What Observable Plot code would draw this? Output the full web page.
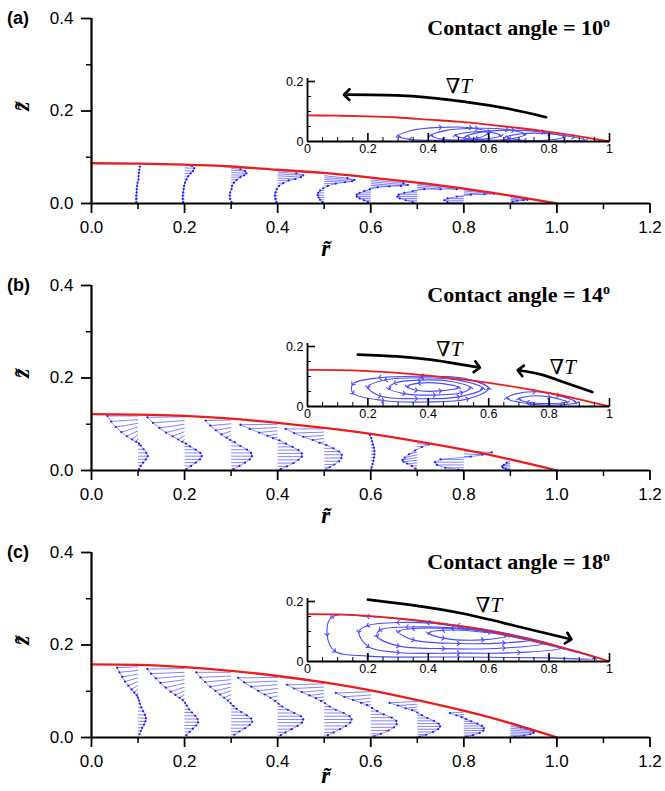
<!DOCTYPE html>
<html><head><meta charset="utf-8">
<script src="https://cdn.jsdelivr.net/npm/d3@7"></script>
<script src="https://cdn.jsdelivr.net/npm/@observablehq/plot@0.6"></script>
<style>
body{margin:0;background:#fff;}
#fig{position:relative;width:665px;height:791px;overflow:hidden;background:#fff;font-family:"Liberation Sans",Arial,sans-serif;}
.abs{position:absolute;}
.letter{position:absolute;left:7px;font:bold 18px/22px "Liberation Sans",Arial,sans-serif;}
.title{position:absolute;right:55px;font:bold 22px/26px "Liberation Serif","Times New Roman",serif;white-space:nowrap;}
.title sup{font-size:14px;line-height:0;}
</style></head><body><div id="fig"></div>
<script>
// ---------- data ----------
const panelLetters = ["(a)", "(b)", "(c)"];
const contactAngles = [10, 14, 18];

const xMajor = [0, 0.2, 0.4, 0.6, 0.8, 1.0, 1.2];
const xMinor = [0.1, 0.3, 0.5, 0.7, 0.9, 1.1];
const yMajor = [0, 0.2, 0.4];
const yMinor = [0.1, 0.3];

const inXLabels = [0, 0.2, 0.4, 0.6, 0.8, 1];
const inXMajor = [0.2, 0.4, 0.6, 0.8, 1];
const inXMinor = [0.05, 0.1, 0.15, 0.25, 0.3, 0.35, 0.45, 0.5, 0.55, 0.65, 0.7, 0.75, 0.85, 0.9, 0.95];
const inYLabels = [0, 0.2];
const inYMajor = [0.2];
const inYMinor = [0.05, 0.1, 0.15];

// droplet free surface
const surfR = [0, 0.1, 0.2, 0.3, 0.4, 0.5, 0.6, 0.7, 0.8, 0.9, 1.0];
const surfA = [0.087, 0.086, 0.084, 0.080, 0.073, 0.066, 0.056, 0.045, 0.032, 0.017, 0];
const surfB = [0.122, 0.121, 0.118, 0.112, 0.103, 0.092, 0.079, 0.063, 0.045, 0.024, 0];
const surfC = [0.158, 0.157, 0.152, 0.144, 0.133, 0.119, 0.102, 0.081, 0.058, 0.031, 0];

// velocity profile stations
const stationsR = [0.1, 0.2, 0.3, 0.4, 0.5, 0.6, 0.7, 0.8, 0.9];

// panel (a): heights of vectors, radial and vertical displacement
const velA_z = [
 [0.003,0.010,0.017,0.024,0.031,0.038,0.045,0.052,0.059,0.066,0.073,0.080],
 [0.003,0.010,0.017,0.024,0.031,0.038,0.045,0.052,0.059,0.065,0.071,0.077,0.082],
 [0.003,0.010,0.017,0.024,0.031,0.038,0.045,0.051,0.057,0.062,0.067,0.072,0.076],
 [0.003,0.010,0.017,0.024,0.031,0.038,0.044,0.050,0.055,0.060,0.064,0.068],
 [0.003,0.008,0.013,0.018,0.023,0.028,0.033,0.038,0.043,0.048,0.052,0.056,0.060],
 [0.003,0.007,0.011,0.015,0.019,0.023,0.027,0.031,0.035,0.039,0.043,0.047,0.051],
 [0.003,0.007,0.011,0.015,0.019,0.023,0.027,0.031,0.035,0.039,0.042],
 [0.003,0.007,0.011,0.015,0.019,0.023,0.027,0.030],
 [0.003,0.006,0.009,0.012,0.015]
];
const velA_u = [
 [-0.004,-0.004,-0.004,-0.003,-0.003,-0.002,-0.001,0.001,0.001,0.002,0.003,0.004],
 [-0.003,-0.004,-0.004,-0.003,-0.002,-0.001,0.001,0.004,0.008,0.013,0.018,0.021,0.016],
 [0.001,-0.002,-0.003,-0.002,0.001,0.002,0.006,0.012,0.020,0.028,0.033,0.030,0.020],
 [-0.003,-0.005,-0.006,-0.005,-0.002,0.003,0.012,0.024,0.038,0.050,0.055,0.040],
 [-0.004,-0.009,-0.012,-0.014,-0.013,-0.009,-0.002,0.008,0.025,0.045,0.060,0.065,0.050],
 [-0.006,-0.015,-0.024,-0.030,-0.030,-0.024,-0.014,-0.002,0.015,0.040,0.065,0.080,0.070],
 [-0.010,-0.025,-0.038,-0.043,-0.040,-0.028,-0.010,0.015,0.050,0.085,0.090],
 [-0.035,-0.042,-0.035,-0.015,0.015,0.045,0.065,0.050],
 [0.005,0.015,0.028,0.037,0.030]
];
const velA_w = [
 [],
 [0,0,0,0,0,0,0,0,0,0,-0.001,-0.001,-0.001],
 [0,0,0,0,0,0,0,0,0,-0.001,-0.002,-0.002,-0.002],
 [0,0,0,0,0,0,0,0,-0.002,-0.003,-0.003,-0.003],
 [0,0,0,0,0,0,0,0,0,-0.002,-0.004,-0.005,-0.005],
 [0,0,0,0,0,0,0,0,0,-0.002,-0.005,-0.007,-0.007],
 [0,0,0,0,0,0,0,0,-0.004,-0.008,-0.009],
 [0,0,0,0,0,-0.003,-0.006,-0.006],
 [0,0,-0.002,-0.004,-0.004]
];

// panel (b)
const velB_z = [
 [0.118,0.110,0.102,0.094,0.086,0.078,0.070,0.062,0.054,0.046,0.038,0.031,0.024,0.017,0.010,0.003],
 [0.116,0.108,0.100,0.092,0.084,0.076,0.068,0.060,0.052,0.045,0.038,0.031,0.024,0.017,0.010,0.003],
 [0.109,0.101,0.093,0.085,0.077,0.069,0.061,0.053,0.045,0.038,0.031,0.024,0.017,0.010,0.003],
 [0.100,0.093,0.086,0.079,0.072,0.065,0.058,0.051,0.044,0.037,0.030,0.023,0.016,0.009,0.003],
 [0.090,0.083,0.076,0.069,0.062,0.055,0.048,0.041,0.034,0.027,0.020,0.013,0.007,0.002],
 [0.077,0.070,0.063,0.056,0.049,0.042,0.035,0.028,0.021,0.014,0.007,0.002],
 [0.058,0.052,0.046,0.040,0.034,0.028,0.022,0.016,0.010,0.004],
 [0.042,0.036,0.030,0.024,0.018,0.012,0.006,0.002],
 [0.020,0.016,0.012,0.008,0.004,0.001]
];
const velB_u = [
 [-0.066,-0.058,-0.048,-0.036,-0.024,-0.013,-0.004,0.002,0.006,0.012,0.018,0.021,0.017,0.011,0.006,0.002],
 [-0.080,-0.068,-0.054,-0.040,-0.026,-0.014,-0.005,0.003,0.012,0.024,0.034,0.037,0.033,0.024,0.014,0.004],
 [-0.055,-0.045,-0.033,-0.021,-0.010,-0.002,0.008,0.020,0.034,0.043,0.045,0.040,0.030,0.018,0.005],
 [-0.080,-0.060,-0.040,-0.022,-0.010,0.004,0.018,0.032,0.045,0.052,0.052,0.045,0.034,0.020,0.007],
 [-0.083,-0.065,-0.045,-0.025,-0.010,0.005,0.020,0.032,0.038,0.037,0.032,0.022,0.012,0.004],
 [-0.002,0.001,0.003,0.005,0.007,0.008,0.008,0.007,0.006,0.004,0.002,0.001],
 [0.025,0.010,-0.005,-0.018,-0.027,-0.032,-0.030,-0.022,-0.012,-0.004],
 [0.060,0.040,0.015,-0.050,-0.062,-0.058,-0.040,-0.012],
 [-0.008,-0.014,-0.018,-0.016,-0.010,-0.003]
];
const velB_w = [
 [0,-0.004,-0.008,-0.011,-0.012,-0.011,-0.008,-0.004],
 [-0.001,-0.005,-0.008,-0.010,-0.010,-0.009,-0.006,-0.002],
 [-0.001,-0.004,-0.006,-0.007,-0.006,-0.003],
 [-0.001,-0.003,-0.004,-0.004,-0.002],
 [0,-0.002,-0.003,-0.003,-0.002],
 [],
 [-0.002,-0.001,-0.003,-0.005,-0.006,-0.005,-0.003,-0.001],
 [-0.003,-0.002],
 [-0.003,-0.004,-0.003,-0.002,-0.001]
];

// panel (c)
const velC_z = [
 [0.153,0.145,0.137,0.129,0.121,0.113,0.105,0.097,0.089,0.081,0.073,0.065,0.057,0.049,0.042,0.035,0.028,0.021,0.014,0.007],
 [0.149,0.141,0.133,0.125,0.117,0.109,0.101,0.093,0.085,0.077,0.069,0.061,0.054,0.047,0.040,0.033,0.026,0.019,0.012,0.005],
 [0.141,0.133,0.125,0.117,0.109,0.101,0.093,0.085,0.077,0.069,0.062,0.055,0.048,0.041,0.034,0.027,0.020,0.013,0.006],
 [0.130,0.122,0.114,0.106,0.098,0.090,0.082,0.074,0.067,0.060,0.053,0.046,0.039,0.032,0.025,0.018,0.011,0.005],
 [0.116,0.109,0.102,0.095,0.088,0.081,0.074,0.067,0.060,0.053,0.046,0.039,0.032,0.025,0.018,0.011,0.005],
 [0.099,0.092,0.085,0.078,0.071,0.064,0.057,0.050,0.043,0.036,0.029,0.022,0.015,0.008,0.003],
 [0.078,0.072,0.066,0.060,0.054,0.048,0.042,0.036,0.030,0.024,0.018,0.012,0.006,0.002],
 [0.055,0.050,0.045,0.040,0.035,0.030,0.025,0.020,0.015,0.010,0.005,0.002],
 [0.028,0.024,0.020,0.016,0.012,0.008,0.004,0.001]
];
const velC_u = [
 [-0.045,-0.040,-0.034,-0.028,-0.021,-0.014,-0.008,-0.003,0.000,0.002,0.004,0.007,0.011,0.015,0.017,0.016,0.013,0.009,0.006,0.003],
 [-0.080,-0.072,-0.062,-0.052,-0.041,-0.030,-0.020,-0.011,-0.004,0.001,0.005,0.010,0.016,0.023,0.028,0.029,0.025,0.018,0.011,0.004],
 [-0.075,-0.066,-0.056,-0.045,-0.034,-0.024,-0.015,-0.007,-0.001,0.005,0.012,0.022,0.034,0.043,0.045,0.040,0.030,0.018,0.007],
 [-0.085,-0.072,-0.057,-0.042,-0.028,-0.016,-0.006,0.002,0.010,0.022,0.036,0.050,0.055,0.052,0.043,0.030,0.017,0.007],
 [-0.080,-0.065,-0.048,-0.032,-0.018,-0.007,0.002,0.012,0.025,0.042,0.055,0.059,0.056,0.047,0.034,0.020,0.008],
 [-0.075,-0.057,-0.038,-0.021,-0.008,0.003,0.014,0.028,0.045,0.055,0.056,0.050,0.038,0.022,0.008],
 [-0.060,-0.042,-0.025,-0.011,0.000,0.010,0.022,0.036,0.046,0.049,0.045,0.034,0.019,0.006],
 [-0.030,-0.016,-0.005,0.005,0.016,0.029,0.039,0.043,0.042,0.034,0.020,0.007],
 [0.022,0.035,0.045,0.050,0.050,0.043,0.030,0.010]
];
const velC_w = [
 [-0.002,-0.004,-0.006,-0.008,-0.009,-0.009,-0.008,-0.006,-0.003,-0.001],
 [-0.001,-0.003,-0.005,-0.007,-0.009,-0.010,-0.009,-0.007,-0.004,-0.002],
 [0,-0.003,-0.005,-0.007,-0.008,-0.008,-0.007,-0.005,-0.003,-0.001],
 [-0.001,-0.003,-0.004,-0.005,-0.005,-0.004,-0.003,-0.001],
 [-0.002,-0.003,-0.004,-0.004,-0.003,-0.002],
 [-0.003,-0.004,-0.004,-0.003,-0.001],
 [-0.003,-0.003,-0.003,-0.001],
 [-0.002,-0.002,-0.001],
 [-0.006,-0.005,-0.004,-0.003,-0.002,-0.001]
];

// inset streamlines (closed loops)
const streamA = [
 [[0.30,0.018],[0.34,0.036],[0.44,0.047],[0.54,0.046],[0.60,0.030],[0.56,0.010],[0.45,0.004],[0.34,0.007]],
 [[0.41,0.020],[0.46,0.037],[0.56,0.044],[0.66,0.040],[0.72,0.024],[0.67,0.008],[0.55,0.004],[0.45,0.007]],
 [[0.49,0.020],[0.53,0.030],[0.60,0.032],[0.64,0.020],[0.60,0.010],[0.52,0.011]],
 [[0.53,0.018],[0.58,0.032],[0.68,0.038],[0.78,0.031],[0.85,0.016],[0.80,0.005],[0.66,0.003],[0.56,0.007]],
 [[0.66,0.015],[0.71,0.026],[0.80,0.026],[0.88,0.015],[0.92,0.005],[0.85,0.002],[0.72,0.003]]
];
const streamB = [
 [[0.60,0.060],[0.52,0.094],[0.38,0.101],[0.24,0.096],[0.15,0.075],[0.15,0.045],[0.25,0.020],[0.40,0.015],[0.53,0.025]],
 [[0.58,0.060],[0.50,0.088],[0.38,0.096],[0.26,0.089],[0.20,0.065],[0.24,0.035],[0.36,0.026],[0.50,0.032]],
 [[0.54,0.062],[0.47,0.084],[0.37,0.088],[0.29,0.078],[0.27,0.060],[0.32,0.043],[0.42,0.038],[0.51,0.046]],
 [[0.50,0.063],[0.44,0.077],[0.37,0.078],[0.33,0.067],[0.36,0.054],[0.44,0.052]],
 [[0.66,0.028],[0.69,0.042],[0.75,0.049],[0.83,0.037],[0.89,0.013],[0.84,0.006],[0.74,0.008]],
 [[0.70,0.025],[0.74,0.035],[0.80,0.032],[0.86,0.015],[0.80,0.010],[0.73,0.014]]
];
const streamC = [
 [[0.95,0.010],[0.80,0.054],[0.60,0.098],[0.40,0.130],[0.20,0.150],[0.08,0.148],[0.065,0.090],[0.09,0.035],[0.20,0.018],[0.50,0.015],[0.80,0.012]],
 [[0.84,0.045],[0.70,0.085],[0.50,0.120],[0.30,0.130],[0.20,0.120],[0.17,0.100],[0.20,0.050],[0.30,0.030],[0.50,0.028],[0.70,0.030]],
 [[0.78,0.060],[0.65,0.092],[0.48,0.112],[0.33,0.115],[0.24,0.105],[0.23,0.085],[0.30,0.052],[0.45,0.043],[0.65,0.045]],
 [[0.74,0.072],[0.62,0.098],[0.48,0.110],[0.35,0.110],[0.30,0.100],[0.35,0.072],[0.50,0.060],[0.65,0.062]],
 [[0.66,0.085],[0.56,0.100],[0.45,0.104],[0.40,0.095],[0.45,0.078],[0.58,0.072]]
];

// temperature-gradient arrows and their labels
const gradA = [[[0.79,0.081],[0.64,0.114],[0.47,0.139],[0.31,0.153],[0.13,0.156]]];
const gradB = [
 [[0.167,0.173],[0.297,0.167],[0.407,0.156],[0.496,0.142],[0.562,0.131]],
 [[0.943,0.048],[0.849,0.081],[0.772,0.107],[0.705,0.120]]
];
const gradC = [[[0.20,0.206],[0.352,0.187],[0.518,0.159],[0.683,0.120],[0.865,0.076]]];
const labA = [[0.506,0.183]];
const labB = [[0.474,0.190],[0.85,0.131]];
const labC = [[0.606,0.187]];

// ---------- drawing ----------
const RED = "#ec1c1c", BLUE_LINE = "#6464ff", BLUE_HEAD = "#1c1cff", STREAM = "#4a4aff";
const SERIF = "'Liberation Serif','Times New Roman','DejaVu Serif',serif";
const SANS = "'Liberation Sans',Arial,sans-serif";
const fig = document.getElementById("fig");

function mainPanel(surf, vz, vu, vw, height, marginBottom, rDy) {
  const rows = [];
  stationsR.forEach((r, i) => vz[i].forEach((z, j) => {
    rows.push({s: i, x1: r, y1: z, x2: r + vu[i][j], y2: z + ((vw[i] || [])[j] ?? 0)});
  }));
  const surfRows = surfR.map((r, i) => ({r, z: surf[i]}));
  return Plot.plot({
    width: 665, height, marginLeft: 91, marginRight: 15.5, marginTop: 18, marginBottom,
    x: {domain: [0, 1.2]}, y: {domain: [0, 0.4]},
    style: {fontFamily: SANS, fontSize: "17px", background: "transparent", overflow: "visible", color: "black"},
    marks: [
      Plot.link(rows, {x1: "x1", y1: "y1", x2: "x2", y2: "y2", stroke: BLUE_LINE, strokeWidth: 0.8}),
      Plot.line(rows, {x: "x2", y: "y2", z: "s", stroke: BLUE_HEAD, strokeWidth: 0.7, strokeOpacity: 0.7}),
      Plot.dot(rows, {x: "x2", y: "y2", r: 1.1, fill: BLUE_HEAD}),
      Plot.line(surfRows, {x: "r", y: "z", curve: "natural", stroke: RED, strokeWidth: 2.3}),
      Plot.ruleY([0], {strokeWidth: 2.2}),
      Plot.ruleX([0], {strokeWidth: 2.2}),
      Plot.axisX({ticks: xMajor, tickSize: 10, tickPadding: 7, tickFormat: d3.format(".1f"), strokeWidth: 1.8, fontSize: 17, label: null}),
      Plot.axisX({ticks: xMinor, tickSize: 6, tickFormat: () => "", strokeWidth: 1.5, label: null}),
      Plot.axisY({ticks: yMajor, tickSize: 10, tickPadding: 8, tickFormat: d3.format(".1f"), strokeWidth: 1.8, fontSize: 17, label: null}),
      Plot.axisY({ticks: yMinor, tickSize: 5, tickFormat: () => "", strokeWidth: 1.5, label: null}),
      Plot.text(["z\u0303"], {text: d => d, frameAnchor: "left", dx: -70, rotate: -90, fontFamily: SERIF, fontStyle: "italic", fontWeight: "bold", fontSize: 24}),
      Plot.text(["r\u0303"], {text: d => d, frameAnchor: "bottom", dx: -45, dy: rDy, lineAnchor: "middle", fontFamily: SERIF, fontStyle: "italic", fontWeight: "bold", fontSize: 23})
    ]
  });
}

function insetPanel(surf, loops, grads, labs) {
  const loopRows = loops.flatMap((pts, id) => pts.map(([x, y]) => ({id, x, y})));
  const gradRows = grads.flatMap((pts, id) => pts.map(([x, y]) => ({id, x, y})));
  const surfRows = surfR.map((r, i) => ({r, z: surf[i]}));
  const fh = 63, fw = 302;
  return Plot.plot({
    width: 332, height: 91, marginLeft: 22, marginRight: 8, marginTop: 10, marginBottom: 18,
    x: {domain: [0, 1]}, y: {domain: [0, 0.21]},
    style: {fontFamily: SANS, fontSize: "12.5px", background: "transparent", overflow: "visible", color: "black"},
    marks: [
      Plot.line(loopRows, {x: "x", y: "y", z: "id", curve: "catmull-rom-closed", stroke: STREAM, strokeWidth: 1.1, markerMid: "arrow"}),
      Plot.line(surfRows, {x: "r", y: "z", curve: "natural", stroke: RED, strokeWidth: 1.8}),
      Plot.line(gradRows, {x: "x", y: "y", z: "id", curve: "natural", stroke: "black", strokeWidth: 2.7, markerEnd: "arrow"}),
      Plot.text(labs, {x: d => d[0], y: d => d[1], text: () => "\u2207", textAnchor: "end", fontFamily: SERIF, fontSize: 21}),
      Plot.text(labs, {x: d => d[0], y: d => d[1], text: () => "T", textAnchor: "start", fontFamily: SERIF, fontStyle: "italic", fontSize: 21}),
      Plot.ruleY([0], {strokeWidth: 1.8}),
      Plot.ruleX([0], {strokeWidth: 1.8}),
      Plot.tickX(inXMajor, {x: d => d, insetTop: fh - 8, strokeWidth: 1.6}),
      Plot.tickX(inXMinor, {x: d => d, insetTop: fh - 4, strokeWidth: 1}),
      Plot.tickY(inYMajor, {y: d => d, insetRight: fw - 8, strokeWidth: 1.6}),
      Plot.tickY(inYMinor, {y: d => d, insetRight: fw - 4, strokeWidth: 1}),
      Plot.axisX({ticks: inXLabels, tickSize: 0, tickPadding: 3, tickFormat: d3.format("~g"), fontSize: 12.5, label: null}),
      Plot.axisY({ticks: inYLabels, tickSize: 0, tickPadding: 4, tickFormat: d3.format("~g"), fontSize: 12.5, label: null})
    ]
  });
}

function place(node, left, top, w) {
  const d = document.createElement("div");
  d.className = "abs";
  d.style.left = left + "px"; d.style.top = top + "px"; d.style.width = w + "px";
  d.appendChild(node);
  fig.appendChild(d);
}

const panels = [
  {top: 0, h: 267, mb: 64, rDy: 45, surf: surfA, vz: velA_z, vu: velA_u, vw: velA_w, loops: streamA, grads: gradA, labs: labA, insetTop: 68},
  {top: 267, h: 267, mb: 64, rDy: 45, surf: surfB, vz: velB_z, vu: velB_u, vw: velB_w, loops: streamB, grads: gradB, labs: labB, insetTop: 333},
  {top: 534, h: 257, mb: 54, rDy: 38, surf: surfC, vz: velC_z, vu: velC_u, vw: velC_w, loops: streamC, grads: gradC, labs: labC, insetTop: 588}
];

panels.forEach((p, i) => {
  place(mainPanel(p.surf, p.vz, p.vu, p.vw, p.h, p.mb, p.rDy), 0, p.top, 665);
  place(insetPanel(p.surf, p.loops, p.grads, p.labs), 285, p.insetTop, 332);
  const L = document.createElement("div");
  L.className = "letter"; L.style.top = (p.top + 7) + "px"; L.textContent = panelLetters[i];
  fig.appendChild(L);
  const T = document.createElement("div");
  T.className = "title"; T.style.top = (p.top + 15) + "px";
  T.innerHTML = "Contact angle = " + contactAngles[i] + "<sup>o</sup>";
  fig.appendChild(T);
});
</script>
</body></html>
